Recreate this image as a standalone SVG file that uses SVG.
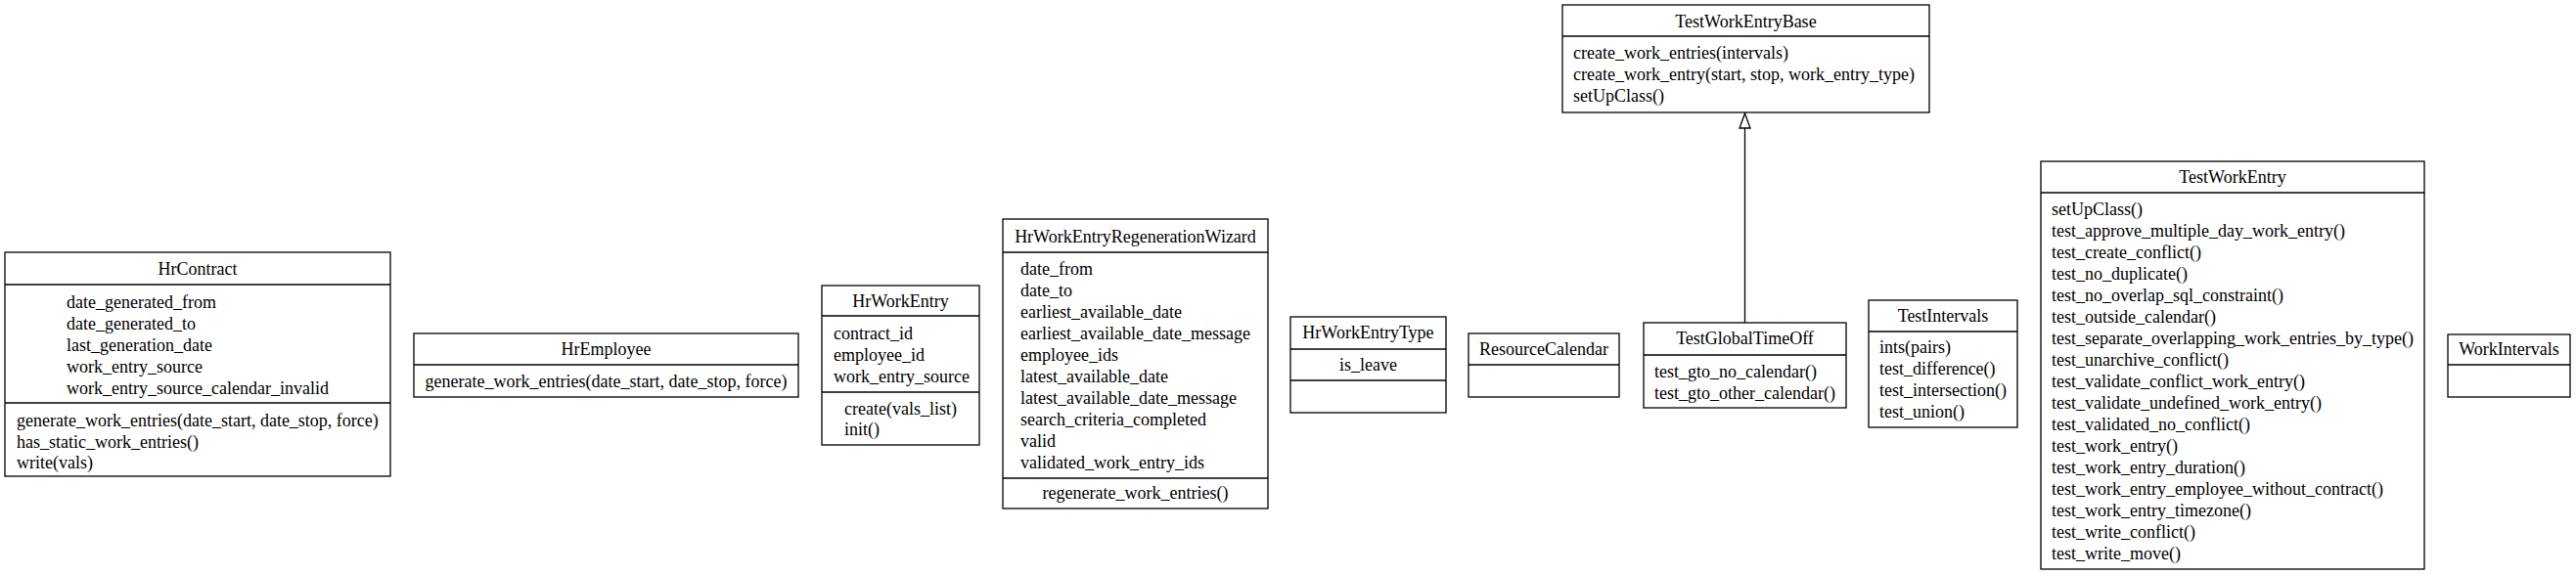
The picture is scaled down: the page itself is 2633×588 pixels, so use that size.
<svg xmlns="http://www.w3.org/2000/svg" width="2633" height="588" viewBox="0 0 2633 588">
<style>
.box{fill:#fff;stroke:#000;stroke-width:1.3}
.ln{stroke:#000;stroke-width:1.3}
text{font-family:"Liberation Serif","Times New Roman",serif;font-size:18px;fill:#000}
.c{text-anchor:middle}
.edge{fill:none;stroke:#000;stroke-width:1.3}
.head{fill:#fff;stroke:#000;stroke-width:1.3}
</style>
<rect width="2633" height="588" fill="#fff"/>

<g id="HrContract">
<rect class="box" x="5" y="258" width="394" height="229"/>
<line class="ln" x1="5" y1="291" x2="399" y2="291"/>
<line class="ln" x1="5" y1="412" x2="399" y2="412"/>
<text class="c" x="202" y="281">HrContract</text>
<text x="68" y="315">date_generated_from</text>
<text x="68" y="337">date_generated_to</text>
<text x="68" y="359">last_generation_date</text>
<text x="68" y="381">work_entry_source</text>
<text x="68" y="403">work_entry_source_calendar_invalid</text>
<text x="17" y="436">generate_work_entries(date_start, date_stop, force)</text>
<text x="17" y="458">has_static_work_entries()</text>
<text x="17" y="479">write(vals)</text>
</g>

<g id="HrEmployee">
<rect class="box" x="423" y="341" width="393" height="65"/>
<line class="ln" x1="423" y1="373" x2="816" y2="373"/>
<text class="c" x="619.5" y="363">HrEmployee</text>
<text class="c" x="619.5" y="396">generate_work_entries(date_start, date_stop, force)</text>
</g>

<g id="HrWorkEntry">
<rect class="box" x="840" y="292" width="161" height="163"/>
<line class="ln" x1="840" y1="323" x2="1001" y2="323"/>
<line class="ln" x1="840" y1="401" x2="1001" y2="401"/>
<text class="c" x="920.5" y="314">HrWorkEntry</text>
<text x="852" y="347">contract_id</text>
<text x="852" y="369">employee_id</text>
<text x="852" y="391">work_entry_source</text>
<text x="863" y="424">create(vals_list)</text>
<text x="863" y="445">init()</text>
</g>

<g id="HrWorkEntryRegenerationWizard">
<rect class="box" x="1025" y="224" width="271" height="296"/>
<line class="ln" x1="1025" y1="258" x2="1296" y2="258"/>
<line class="ln" x1="1025" y1="489" x2="1296" y2="489"/>
<text class="c" x="1160.5" y="248">HrWorkEntryRegenerationWizard</text>
<text x="1043" y="281">date_from</text>
<text x="1043" y="303">date_to</text>
<text x="1043" y="325">earliest_available_date</text>
<text x="1043" y="347">earliest_available_date_message</text>
<text x="1043" y="369">employee_ids</text>
<text x="1043" y="391">latest_available_date</text>
<text x="1043" y="413">latest_available_date_message</text>
<text x="1043" y="435">search_criteria_completed</text>
<text x="1043" y="457">valid</text>
<text x="1043" y="479">validated_work_entry_ids</text>
<text class="c" x="1160.5" y="510">regenerate_work_entries()</text>
</g>

<g id="HrWorkEntryType">
<rect class="box" x="1319" y="324" width="159" height="98"/>
<line class="ln" x1="1319" y1="357" x2="1478" y2="357"/>
<line class="ln" x1="1319" y1="389" x2="1478" y2="389"/>
<text class="c" x="1398.5" y="346">HrWorkEntryType</text>
<text class="c" x="1398.5" y="379">is_leave</text>
</g>

<g id="ResourceCalendar">
<rect class="box" x="1501" y="341" width="154" height="65"/>
<line class="ln" x1="1501" y1="373" x2="1655" y2="373"/>
<text class="c" x="1578" y="363">ResourceCalendar</text>
</g>

<g id="TestGlobalTimeOff">
<rect class="box" x="1680" y="330" width="207" height="87"/>
<line class="ln" x1="1680" y1="363" x2="1887" y2="363"/>
<text class="c" x="1783.5" y="352">TestGlobalTimeOff</text>
<text x="1691" y="386">test_gto_no_calendar()</text>
<text x="1691" y="408">test_gto_other_calendar()</text>
</g>

<g id="TestWorkEntryBase">
<rect class="box" x="1597" y="5" width="375" height="110"/>
<line class="ln" x1="1597" y1="37" x2="1972" y2="37"/>
<text class="c" x="1784.5" y="28">TestWorkEntryBase</text>
<text x="1608" y="60">create_work_entries(intervals)</text>
<text x="1608" y="82">create_work_entry(start, stop, work_entry_type)</text>
<text x="1608" y="104">setUpClass()</text>
</g>

<g id="TestIntervals">
<rect class="box" x="1910" y="307" width="152" height="130"/>
<line class="ln" x1="1910" y1="339" x2="2062" y2="339"/>
<text class="c" x="1986" y="329">TestIntervals</text>
<text x="1921" y="361">ints(pairs)</text>
<text x="1921" y="383">test_difference()</text>
<text x="1921" y="405">test_intersection()</text>
<text x="1921" y="427">test_union()</text>
</g>

<g id="TestWorkEntry">
<rect class="box" x="2086" y="165" width="392" height="417"/>
<line class="ln" x1="2086" y1="197" x2="2478" y2="197"/>
<text class="c" x="2282" y="187">TestWorkEntry</text>
<text x="2097" y="220">setUpClass()</text>
<text x="2097" y="242">test_approve_multiple_day_work_entry()</text>
<text x="2097" y="264">test_create_conflict()</text>
<text x="2097" y="286">test_no_duplicate()</text>
<text x="2097" y="308">test_no_overlap_sql_constraint()</text>
<text x="2097" y="330">test_outside_calendar()</text>
<text x="2097" y="352">test_separate_overlapping_work_entries_by_type()</text>
<text x="2097" y="374">test_unarchive_conflict()</text>
<text x="2097" y="396">test_validate_conflict_work_entry()</text>
<text x="2097" y="418">test_validate_undefined_work_entry()</text>
<text x="2097" y="440">test_validated_no_conflict()</text>
<text x="2097" y="462">test_work_entry()</text>
<text x="2097" y="484">test_work_entry_duration()</text>
<text x="2097" y="506">test_work_entry_employee_without_contract()</text>
<text x="2097" y="528">test_work_entry_timezone()</text>
<text x="2097" y="550">test_write_conflict()</text>
<text x="2097" y="572">test_write_move()</text>
</g>

<g id="WorkIntervals">
<rect class="box" x="2502" y="342" width="125" height="64"/>
<line class="ln" x1="2502" y1="373" x2="2627" y2="373"/>
<text class="c" x="2564.5" y="363">WorkIntervals</text>
</g>

<g id="connectors">
<line class="edge" x1="1783.5" y1="330" x2="1783.5" y2="131"/>
<path class="head" d="M1783.5,116 L1789,131 L1778,131 Z"/>
</g>
</svg>
